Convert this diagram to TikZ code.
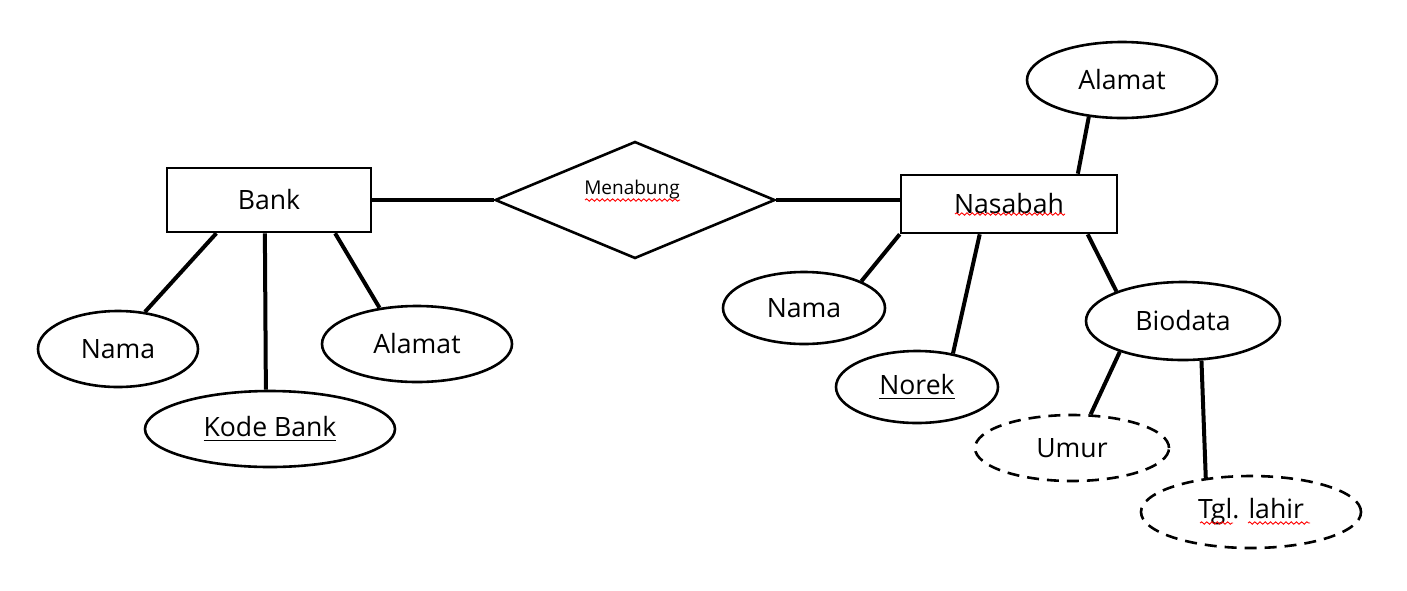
\documentclass[tikz,border=0pt]{standalone}
\usepackage{fontspec}
\setmainfont{Open Sans}
\usetikzlibrary{shapes.geometric,calc,decorations.pathmorphing}
\begin{document}
\begin{tikzpicture}[x=0.5pt,y=-0.5pt,
  txt/.style={font=\fontsize{13.3}{16}\selectfont},
  ent/.style={draw,line width=1.3pt,inner sep=0,txt},
  attr/.style={ellipse,draw,line width=1.3pt,inner sep=0,txt},
  derived/.style={attr,dash pattern=on 6pt off 4pt},
  rel/.style={diamond,draw,line width=1.3pt,inner sep=0},
  link/.style={line width=2pt},
  squig/.style={red,line width=0.45pt,decorate,decoration={snake,amplitude=0.6pt,segment length=2.6pt}}]
\useasboundingbox (0,0) rectangle (1407,590);

% entities and relationship
\node[ent,minimum width=102pt,minimum height=32pt] (bank) at (269,200) {Bank};
\node[rel,minimum width=140pt,minimum height=58.5pt] (men) at (635,200) {};
\node[inner sep=0,font=\fontsize{9.5}{11}\selectfont] (menT) at (632,190) {Menabung};
\node[ent,minimum width=108pt,minimum height=29pt] (nas) at (1009,204) {Nasabah};

% attributes of Bank
\node[attr,minimum width=80pt,minimum height=38pt] (namaB) at (118,349) {Nama};
\node[attr,minimum width=125pt,minimum height=38pt] (kode) at (270,429) {\underline{Kode Bank}};
\node[attr,minimum width=95pt,minimum height=38pt] (alamatB) at (417,344) {Alamat};

% attributes of Nasabah
\node[attr,minimum width=95pt,minimum height=38pt] (alamatN) at (1122,80) {Alamat};
\node[attr,minimum width=81pt,minimum height=36pt] (namaN) at (804,308) {Nama};
\node[attr,minimum width=81pt,minimum height=36pt] (norek) at (917,387) {\underline{Norek}};
\node[attr,minimum width=97pt,minimum height=39pt] (bio) at (1183,321) {Biodata};
\node[derived,minimum width=97pt,minimum height=33pt] (umur) at (1072,448) {Umur};
\node[derived,minimum width=110pt,minimum height=36pt] (tgl) at (1251,512) {Tgl. lahir};

% connectors
\draw[link] (bank.east) -- (men.west);
\draw[link] (men.east) -- (men.east -| nas.west);
\draw[link] ($(bank.south west)!0.245!(bank.south east)$) -- (namaB.54);
\draw[link] ($(bank.south west)!0.48!(bank.south east)$) -- (kode.96);
\draw[link] ($(bank.south west)!0.82!(bank.south east)$) -- (alamatB.136);
\draw[link] ($(nas.north west)!0.815!(nas.north east)$) -- (alamatN.228);
\draw[link] (nas.south west) -- (namaN.25);
\draw[link] ($(nas.south west)!0.366!(nas.south east)$) -- (norek.43);
\draw[link] ($(nas.south west)!0.86!(nas.south east)$) -- (bio.156);
\draw[link] (bio.206) -- (umur.61);
\draw[link] (bio.295) -- (tgl.143);

% spell-check marks
\draw[squig] (585,200) -- (680,200);
\draw[squig] (955,214) -- (1065,214);
\draw[squig] (1200,523) -- (1233,523);
\draw[squig] (1248,523) -- (1310,523);
\end{tikzpicture}
\end{document}
